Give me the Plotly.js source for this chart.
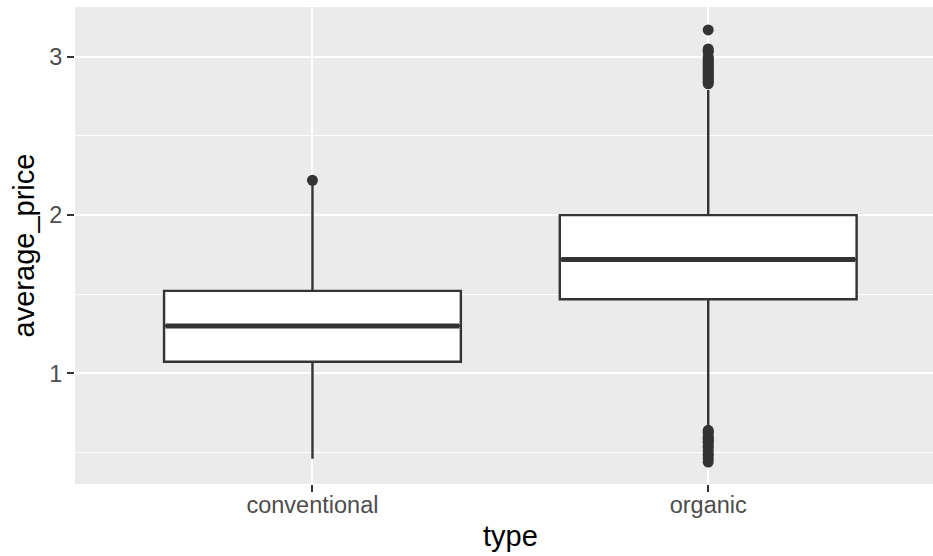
<!DOCTYPE html>
<html>
<head>
<meta charset="utf-8">
<script src="https://cdn.plot.ly/plotly-3.0.1.min.js"></script>
<style>html,body{margin:0;padding:0;background:#fff;}#chart{width:933px;height:556px;}</style>
</head>
<body>
<div id="chart"></div>
<script>
// Data
const categories = ['conventional', 'organic'];
const q1Values = [1.073, 1.468];
const medianValues = [1.30, 1.72];
const q3Values = [1.521, 2.00];
const lowerWhisker = [0.46, 0.67];
const upperWhisker = [2.19, 2.79];
const outliersConventional = [2.22];
const outliersOrganic = [0.44, 0.46, 0.48, 0.49, 0.51, 0.53, 0.54, 0.56, 0.57, 0.58, 0.59, 0.60, 0.62, 0.63, 0.64,
  2.83, 2.84, 2.85, 2.86, 2.87, 2.88, 2.89, 2.90, 2.91, 2.92, 2.93, 2.94, 2.95, 2.96, 2.97, 2.98, 2.99, 3.00, 3.03, 3.04, 3.05, 3.17];
const yTickVals = [1, 2, 3];
const yTickText = ['1', '2', '3'];

const outlierSets = [outliersConventional, outliersOrganic];
const lineColor = '#333333';
const boxWidth = 0.75;

const traces = [];
categories.forEach((c, i) => {
  traces.push({
    type: 'box',
    x: [i],
    q1: [q1Values[i]],
    median: [medianValues[i]],
    q3: [q3Values[i]],
    lowerfence: [lowerWhisker[i]],
    upperfence: [upperWhisker[i]],
    width: boxWidth,
    whiskerwidth: 0,
    fillcolor: '#FFFFFF',
    line: {color: lineColor, width: 2.4},
    hoverinfo: 'skip',
    showlegend: false
  });
  // thicker median line (ggplot fatten)
  traces.push({
    type: 'scatter', mode: 'lines',
    x: [i - boxWidth / 2 + 0.004, i + boxWidth / 2 - 0.004],
    y: [medianValues[i], medianValues[i]],
    line: {color: lineColor, width: 5},
    hoverinfo: 'skip', showlegend: false
  });
  traces.push({
    type: 'scatter', mode: 'markers',
    x: outlierSets[i].map(() => i),
    y: outlierSets[i],
    marker: {color: lineColor, size: 11},
    hoverinfo: 'skip', showlegend: false
  });
});

const layout = {
  width: 933, height: 556,
  margin: {l: 75, r: 0, t: 7, b: 72},
  paper_bgcolor: '#FFFFFF',
  plot_bgcolor: '#EBEBEB',
  font: {family: 'Liberation Sans, Arial, sans-serif'},
  xaxis: {
    range: [-0.6, 1.568],
    tickvals: [0, 1],
    ticktext: categories,
    showgrid: true, gridcolor: '#FFFFFF', gridwidth: 2,
    zeroline: false,
    ticks: 'outside', ticklen: 7, tickwidth: 2, tickcolor: lineColor,
    ticklabelstandoff: -7,
    tickfont: {size: 23.5, color: '#4D4D4D'}
  },
  yaxis: {
    range: [0.301, 3.315],
    tickvals: yTickVals,
    ticktext: yTickText,
    showgrid: true, gridcolor: '#FFFFFF', gridwidth: 2,
    minor: {tickvals: [0.5, 1.5, 2.5], showgrid: true, gridcolor: '#FFFFFF', gridwidth: 1, ticks: ''},
    zeroline: false,
    ticks: 'outside', ticklen: 7, tickwidth: 2, tickcolor: lineColor,
    tickfont: {size: 23.5, color: '#4D4D4D'},
    title: {text: 'average_price', font: {size: 29, color: '#000000'}, standoff: 6}
  },
  annotations: [{
    // x-axis title, centred on the full (-0.6, 1.6) discrete panel extent
    text: 'type', xref: 'x', yref: 'paper',
    x: (categories.length - 1) / 2, y: 0, yshift: -52,
    xanchor: 'center', yanchor: 'middle', showarrow: false,
    font: {size: 29, color: '#000000'}
  }]
};

Plotly.newPlot('chart', traces, layout, {staticPlot: true, displayModeBar: false});
</script>
</body>
</html>
